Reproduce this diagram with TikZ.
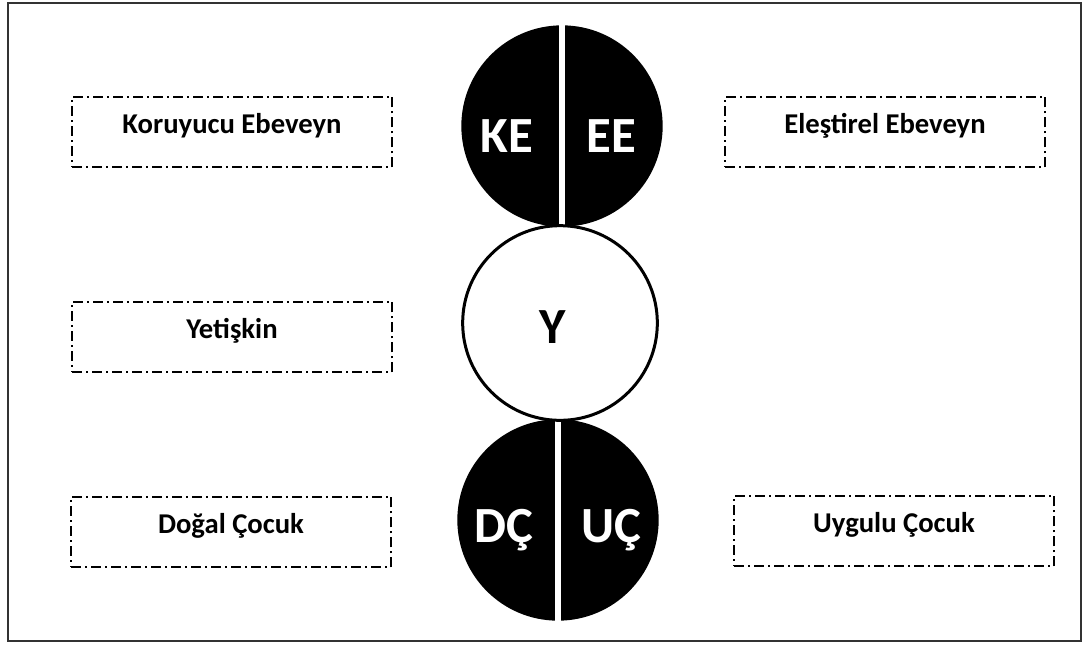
\documentclass[tikz,border=0pt]{standalone}
\usepackage{fontspec}
\setmainfont{Carlito}

\begin{document}
\begin{tikzpicture}[x=0.75pt,y=-0.75pt,
    rolbox/.style={draw, line width=1.3pt,
        dash pattern=on 7.5pt off 3pt on 1.5pt off 3pt,
        minimum width=240pt, minimum height=53pt, inner sep=0pt,
        text height=1.5ex, text depth=1.1ex,
        font=\bfseries\fontsize{21.5}{25}\selectfont},
    ego/.style={circle, inner sep=0pt, minimum size=151pt},
    egotext/.style={text=white, anchor=base,
        font=\bfseries\fontsize{38}{46}\selectfont}]
    \useasboundingbox (0,0) rectangle (1089,654);
    \draw[line width=1.5pt, black!80] (8,3) rectangle (1081,641);

    % ego states
    \node[ego, fill=black] (parent) at (562,126) {};
    \draw[white, line width=4pt] (parent.north) -- (parent.south);
    \node[ego, fill=black] (child) at (558,520) {};
    \draw[white, line width=4pt] (child.north) -- (child.south);
    \node[ego, draw, fill=white, line width=2.25pt, minimum size=146pt] (adult) at (560,323) {};

    \node[egotext] (ke) at (507,152) {KE};
    \node[egotext] (ee) at (611,152) {EE};
    \node[egotext, text=black] (y) at (553,343) {Y};
    \node[egotext] (dc) at (504,542) {DÇ};
    \node[egotext] (uc) at (611,542) {UÇ};

    % labels
    \node[rolbox] (koruyucu) at (232,132) {Koruyucu Ebeveyn};
    \node[rolbox] (elestirel) at (885,132) {Eleştirel Ebeveyn};
    \node[rolbox] (yetiskin) at (232,337) {Yetişkin};
    \node[rolbox] (dogal) at (231,532) {Doğal Çocuk};
    \node[rolbox] (uygulu) at (894,531) {Uygulu Çocuk};
\end{tikzpicture}
\end{document}
